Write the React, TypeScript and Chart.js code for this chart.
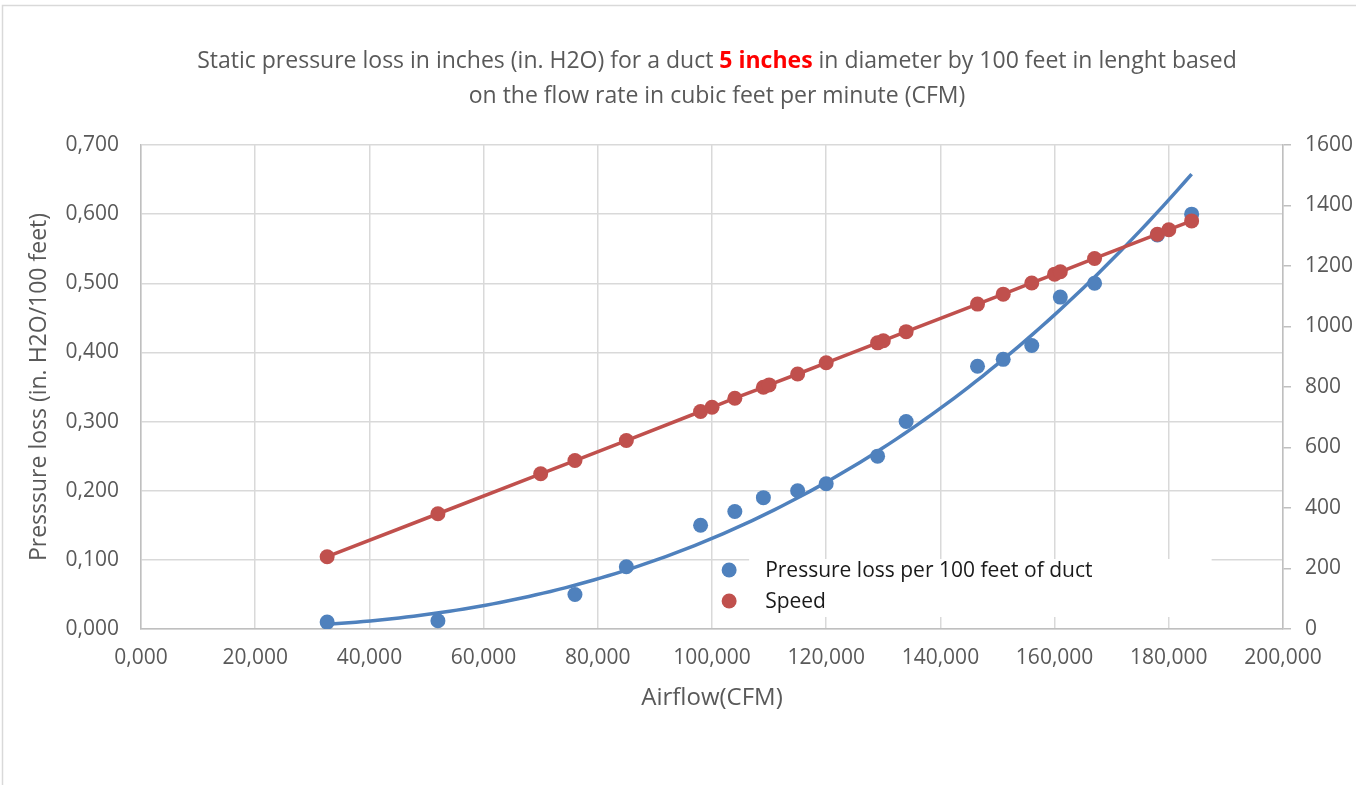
import React, { useEffect, useRef } from "react";
import { Chart, registerables } from "chart.js";

Chart.register(...registerables);

// ---- data ----
const airflowPressure = [32.6, 52, 76, 85, 98, 104, 109, 115, 120, 129, 134, 146.5, 151, 156, 161, 167, 178, 184];
const pressureLoss = [0.01, 0.012, 0.05, 0.09, 0.15, 0.17, 0.19, 0.2, 0.21, 0.25, 0.3, 0.38, 0.39, 0.41, 0.48, 0.5, 0.57, 0.6];
const airflowSpeed = [32.6, 52, 70, 76, 85, 98, 100, 104, 109, 110, 115, 120, 129, 130, 134, 146.5, 151, 156, 160, 161, 167, 178, 180, 184];
const speed = [239, 381, 513, 557, 623, 719, 733, 763, 799, 807, 843, 880, 946, 953, 983, 1074, 1107, 1144, 1173, 1181, 1225, 1305, 1320, 1349];

const seriesNames = ["Pressure loss per 100 feet of duct", "Speed"];
const titleLine1 = ["Static pressure loss in inches (in. H2O) for a duct ", "5 inches", " in diameter by 100 feet in lenght based"];
const titleLine2 = "on the flow rate in cubic feet per minute (CFM)";
const xTitle = "Airflow(CFM)";
const yTitle = "Presssure loss (in. H2O/100 feet)";

const BLUE = "#4f81bd";
const RED = "#c0504d";
const TEXT = "#595959";
const FONT = "'Open Sans', sans-serif";

// power trendline (least squares in log-log space), like the spreadsheet's trendline
function powerTrend(xs: number[], ys: number[], samples: number) {
  const lx = xs.map(Math.log);
  const ly = ys.map(Math.log);
  const n = xs.length;
  const mx = lx.reduce((a, b) => a + b, 0) / n;
  const my = ly.reduce((a, b) => a + b, 0) / n;
  let sxy = 0, sxx = 0;
  for (let i = 0; i < n; i++) {
    sxy += (lx[i] - mx) * (ly[i] - my);
    sxx += (lx[i] - mx) * (lx[i] - mx);
  }
  const b = sxy / sxx;
  const a = Math.exp(my - b * mx);
  const x0 = Math.min(...xs), x1 = Math.max(...xs);
  const pts: { x: number; y: number }[] = [];
  for (let i = 0; i <= samples; i++) {
    const x = x0 + ((x1 - x0) * i) / samples;
    pts.push({ x, y: a * Math.pow(x, b) });
  }
  return pts;
}

const decorPlugin = {
  id: "decor",
  beforeDraw(chart: any) {
    const ctx = chart.ctx;
    ctx.save();
    ctx.fillStyle = "#fff";
    ctx.fillRect(0, 0, chart.width, chart.height);
    ctx.strokeStyle = "#d9d9d9";
    ctx.lineWidth = 1.5;
    ctx.beginPath();
    ctx.moveTo(2.5, chart.height);
    ctx.lineTo(2.5, 5.5);
    ctx.lineTo(chart.width, 5.5);
    ctx.stroke();

    // title
    const cx = 717;
    ctx.textBaseline = "middle";
    const normal = `23px ${FONT}`;
    const bold = `bold 23px ${FONT}`;
    ctx.font = normal;
    const w0 = ctx.measureText(titleLine1[0]).width;
    const w2 = ctx.measureText(titleLine1[2]).width;
    ctx.font = bold;
    const w1 = ctx.measureText(titleLine1[1]).width;
    let x = cx - (w0 + w1 + w2) / 2;
    ctx.textAlign = "left";
    ctx.font = normal;
    ctx.fillStyle = TEXT;
    ctx.fillText(titleLine1[0], x, 61);
    x += w0;
    ctx.font = bold;
    ctx.fillStyle = "#ff0000";
    ctx.fillText(titleLine1[1], x, 61);
    x += w1;
    ctx.font = normal;
    ctx.fillStyle = TEXT;
    ctx.fillText(titleLine1[2], x, 61);
    ctx.textAlign = "center";
    ctx.fillText(titleLine2, cx, 96);
    ctx.restore();
  },
  afterDatasetsDraw(chart: any) {
    const ctx = chart.ctx;
    const area = chart.chartArea;
    const xs = chart.scales.x;
    ctx.save();
    // legend box inside plot area
    const left = xs.getPixelForValue(106.5);
    const right = xs.getPixelForValue(187.5);
    ctx.fillStyle = "#fff";
    ctx.fillRect(left, area.bottom - 70, right - left, 58);
    const colors = [BLUE, RED];
    const mx = xs.getPixelForValue(103);
    ctx.font = `21px ${FONT}`;
    ctx.textBaseline = "middle";
    ctx.textAlign = "left";
    seriesNames.forEach((name, i) => {
      const y = area.bottom - 59 + i * 31;
      ctx.fillStyle = colors[i];
      ctx.beginPath();
      ctx.arc(mx, y, 7.5, 0, Math.PI * 2);
      ctx.fill();
      ctx.fillStyle = "#1a1a1a";
      ctx.fillText(name, mx + 36, y + 1);
    });
    ctx.restore();
  },
};

export default function App() {
  const ref = useRef<HTMLCanvasElement | null>(null);
  useEffect(() => {
    document.body.style.margin = "0";
    const trend = powerTrend(airflowPressure, pressureLoss, 120);
    const chart = new Chart(ref.current as HTMLCanvasElement, {
      type: "scatter",
      data: {
        datasets: [
          {
            label: seriesNames[1],
            data: airflowSpeed.map((x, i) => ({ x, y: speed[i] })),
            yAxisID: "y1",
            showLine: true,
            borderColor: RED,
            backgroundColor: RED,
            borderWidth: 3.5,
            pointRadius: 7.5,
            pointBorderWidth: 0,
            pointHoverRadius: 7.5,
          },
          {
            label: seriesNames[0],
            data: airflowPressure.map((x, i) => ({ x, y: pressureLoss[i] })),
            yAxisID: "y",
            showLine: false,
            borderColor: BLUE,
            backgroundColor: BLUE,
            pointRadius: 7.5,
            pointBorderWidth: 0,
          },
          {
            label: "trend",
            data: trend,
            yAxisID: "y",
            showLine: true,
            borderColor: BLUE,
            backgroundColor: BLUE,
            borderWidth: 3.5,
            pointRadius: 0,
            tension: 0,
          },
        ],
      },
      options: {
        responsive: true,
        maintainAspectRatio: false,
        animation: false,
        devicePixelRatio: 1,
        layout: { padding: { top: 145, left: 0, right: 0, bottom: 0 } },
        plugins: { legend: { display: false }, tooltip: { enabled: false }, title: { display: false } },
        scales: {
          x: {
            type: "linear",
            min: 0,
            max: 200,
            afterFit: (s: any) => { s.height = 156; },
            ticks: {
              stepSize: 20,
              color: TEXT,
              font: { family: FONT, size: 21 },
              padding: 16,
              callback: (v: any) => Number(v).toFixed(3).replace(".", ","),
            },
            grid: { color: "#d9d9d9", lineWidth: 1.5, drawTicks: false },
            border: { color: "#bfbfbf", width: 1.5 },
            title: {
              display: true,
              text: xTitle,
              color: TEXT,
              font: { family: FONT, size: 24 },
              padding: { top: 0, bottom: 72 },
            },
          },
          y: {
            type: "linear",
            position: "left",
            min: 0,
            max: 0.7,
            afterFit: (s: any) => { s.width = 141; },
            ticks: {
              stepSize: 0.1,
              color: TEXT,
              font: { family: FONT, size: 21 },
              padding: 22,
              callback: (v: any) => Number(v).toFixed(3).replace(".", ","),
            },
            grid: { color: "#d9d9d9", lineWidth: 1.5, drawTicks: false },
            border: { color: "#bfbfbf", width: 1.5 },
            title: {
              display: true,
              text: yTitle,
              color: TEXT,
              font: { family: FONT, size: 23 },
              padding: { top: 26, bottom: 0 },
            },
          },
          y1: {
            type: "linear",
            position: "right",
            min: 0,
            max: 1600,
            afterFit: (s: any) => { s.width = 73; },
            ticks: {
              stepSize: 200,
              color: TEXT,
              font: { family: FONT, size: 21 },
              padding: 14,
              callback: (v: any) => String(v),
            },
            grid: { drawOnChartArea: false, color: "#bfbfbf", lineWidth: 1.5, tickLength: 8 },
            border: { color: "#bfbfbf", width: 1.5 },
          },
        },
      },
      plugins: [decorPlugin],
    });
    return () => chart.destroy();
  }, []);
  return (
    <div style={{ position: "absolute", left: 0, top: 0, width: 1356, height: 785 }}>
      <canvas ref={ref} />
    </div>
  );
}
